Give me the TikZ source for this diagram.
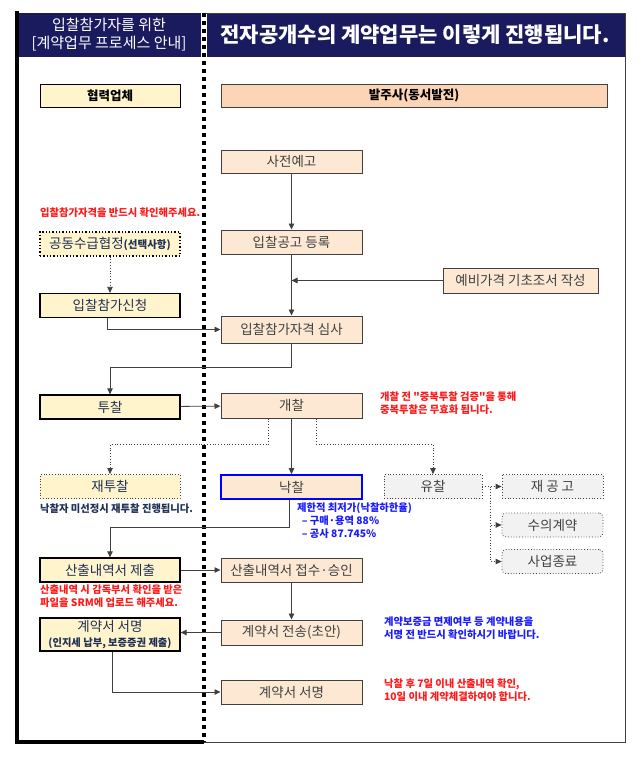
\documentclass[tikz,border=0pt]{standalone}
\usepackage{fontspec}
\setmainfont{Noto Sans CJK KR}
\usetikzlibrary{arrows.meta,positioning,calc}
\definecolor{hdnavy}{HTML}{1A1A5E}
\definecolor{boxpeach}{HTML}{FDE9D3}
\definecolor{headpeach}{HTML}{FCD5B6}
\definecolor{boxyellow}{HTML}{FFF4CC}
\definecolor{boxgrey}{HTML}{F2F2F2}
\definecolor{linegrey}{HTML}{404040}
\definecolor{txtgrey}{HTML}{404040}
\definecolor{txtnavy}{HTML}{1F2F55}
\definecolor{noteblue}{HTML}{1A1AFF}
\definecolor{notered}{HTML}{FF1A1A}
\tikzset{
  pbox/.style={draw=linegrey, fill=boxpeach, line width=1pt, minimum width=141pt,
               minimum height=24pt, inner sep=1pt, align=center,
               font=\fontsize{13.5}{16}\selectfont, text=txtgrey},
  cbox/.style={pbox, draw=black, line width=1.3pt, fill=boxyellow, minimum width=140pt,
               text=txtnavy},
  dbox/.style={pbox, draw=linegrey, line width=0.8pt, dotted, fill=boxgrey},
  rbox/.style={dbox, rounded corners=4pt},
  farrow/.style={-{Triangle[length=6pt,width=5.5pt]}, draw=linegrey, line width=0.8pt},
  fdot/.style={farrow, dotted},
  fnote/.style={font=\fontsize{10.3}{12.8}\selectfont\bfseries, align=left, inner sep=0pt},
}
\begin{document}
\begin{tikzpicture}[x=1pt,y=-1pt]
\useasboundingbox (0,0) rectangle (643,761);
% header and frame
\fill[hdnavy] (17,13) rectangle (201,57);
\fill[hdnavy] (207,13) rectangle (625,57);
\draw[linegrey, line width=1pt] (204,13) -- (625,13) -- (625,742) -- (204,742);
\draw[black, line width=3.5pt] (17,11.25) -- (17,742) -- (204,742);
\draw[black, line width=3.5pt, dash pattern=on 3.5pt off 4.5pt] (204,13) -- (204,742);
\node[text=white, align=center, font=\fontsize{15}{18}\selectfont] (hdleft) at (109,35)
  {입찰참가자를 위한\\{}[계약업무 프로세스 안내]};
\node[text=white, font=\fontsize{21}{24}\selectfont\bfseries] (hdright) at (415,35)
  {전자공개수의 계약업무는 이렇게 진행됩니다.};
% column heads
\node[cbox, line width=1pt, minimum height=23pt, text=black, font=\fontsize{12.5}{14}\selectfont\bfseries] (hyup) at (110,95.5) {협력업체};
\node[pbox, fill=headpeach, minimum width=386pt, minimum height=23pt, text=black, font=\fontsize{12.5}{14}\selectfont\bfseries] (balju) at (414,95.5) {발주사(동서발전)};
% owner steps
\node[pbox, minimum height=23pt] (sajeon) at (291.5,161.5) {사전예고};
\node[pbox] (gonggo) at (291.5,242) {입찰공고 등록};
\node[pbox, minimum width=155pt, minimum height=25pt] (yebi) at (520.5,280.5) {예비가격 기초조서 작성};
\node[pbox, minimum height=27pt] (simsa) at (291.5,329.5) {입찰참가자격 심사};
\node[pbox, minimum height=25pt] (gaechal) at (291.5,405.5) {개찰};
\node[pbox, draw=blue, line width=1.6pt] (nakchal) at (291.5,487) {낙찰};
\node[dbox, minimum width=98pt] (yuchal) at (433,486.5) {유찰};
\node[dbox, minimum width=101pt] (jaegonggo) at (552.5,486.5) {재 공 고};
\node[rbox, minimum width=101pt] (suui) at (552.5,525) {수의계약};
\node[rbox, minimum width=101pt] (jongryo) at (552.5,561.5) {사업종료};
\node[pbox] (jeopsu) at (291.5,570) {산출내역서 접수·승인};
\node[pbox, minimum height=25pt] (jeonsong) at (291.5,632.5) {계약서 전송(초안)};
\node[pbox] (seomR) at (291.5,692) {계약서 서명};
% company steps
\node[cbox, dotted, line width=1.2pt] (gongdong) at (110,244)
  {공동수급협정{\fontsize{10.5}{12}\selectfont\bfseries(선택사항)}};
\node[cbox] (sincheong) at (110,305.5) {입찰참가신청};
\node[cbox] (tuchal) at (110,407) {투찰};
\node[cbox, draw=linegrey, line width=0.8pt, dotted] (jaetu) at (110,486.5) {재투찰};
\node[cbox] (sanchul) at (110,570) {산출내역서 제출};
\node[cbox, minimum height=33pt, font=\fontsize{13.5}{15}\selectfont] (seomL) at (110,634.5)
  {계약서 서명\\{\fontsize{10.3}{12}\selectfont\bfseries (인지세 납부, 보증증권 제출)}};
% notes
\node[fnote, text=notered, anchor=west] (nt1) at (40,213) {입찰참가자격을 반드시 확인해주세요.};
\node[fnote, text=notered, anchor=north west] (nt2) at (380,392) {개찰 전 \textquotedbl 중복투찰 검증\textquotedbl 을 통해\\중복투찰은 무효화 됩니다.};
\node[fnote, text=txtnavy, anchor=west] (nt3) at (40,509) {낙찰자 미선정시 재투찰 진행됩니다.};
\node[fnote, text=noteblue, anchor=north west] (nt4) at (297,503) {제한적 최저가(낙찰하한율)\\\ \ – 구매·용역 88\%\\\ \ – 공사 87.745\%};
\node[fnote, text=notered, anchor=north west] (nt5) at (40,585) {산출내역 시 감독부서 확인을 받은\\파일을 SRM에 업로드 해주세요.};
\node[fnote, text=noteblue, anchor=north west] (nt6) at (384,617) {계약보증금 면제여부 등 계약내용을\\서명 전 반드시 확인하시기 바랍니다.};
\node[fnote, text=notered, anchor=north west] (nt7) at (384,679) {낙찰 후 7일 이내 산출내역 확인,\\10일 이내 계약체결하여야 합니다.};
% connectors
\draw[farrow] (sajeon) -- (gonggo);
\draw[farrow] (gonggo) -- (simsa);
\draw[farrow] (yebi.west) -- (gonggo.south |- yebi.west);
\draw[fdot] (gongdong) -- (sincheong);
\draw[farrow] ([xshift=-3pt]sincheong.south) |- (simsa.west);
\draw[farrow] (simsa.south) -- ++(0,24) -| (tuchal.north);
\draw[farrow] (tuchal) -- (gaechal);
\draw[fdot] ([xshift=-23pt]gaechal.south) -- ++(0,26) -| (jaetu.north);
\draw[farrow] (gaechal) -- (nakchal);
\draw[fdot] ([xshift=25pt]gaechal.south) -- ++(0,26) -| (yuchal.north);
\draw[fdot] (yuchal) -- (jaegonggo);
\draw[fdot] ([xshift=8pt]yuchal.east) |- (suui.west);
\draw[fdot] ([xshift=8pt]yuchal.east) |- (jongryo.west);
\draw[farrow] ([xshift=-2pt]nakchal.south) -- ++(0,28) -| (sanchul.north);
\draw[farrow] (sanchul) -- (jeopsu);
\draw[farrow] (jeopsu) -- (jeonsong);
\draw[farrow] (jeonsong.west) -- (jeonsong.west -| seomL.east);
\draw[farrow] ([xshift=2pt]seomL.south) |- (seomR.west);
\end{tikzpicture}
\end{document}
